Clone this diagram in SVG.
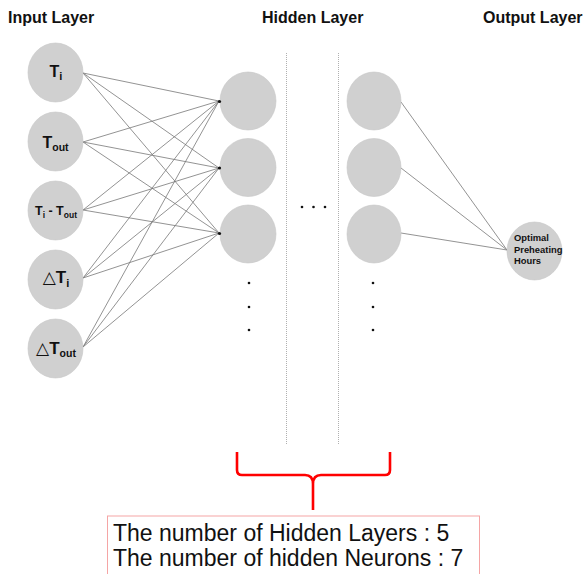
<svg xmlns="http://www.w3.org/2000/svg" width="585" height="574" viewBox="0 0 585 574">
<style>
.node{fill:#d0d0d0;stroke:#c6c6c6;stroke-width:0.6}
.title{font-family:"Liberation Sans",Arial,sans-serif;font-weight:bold;font-size:16px;fill:#111}
.lbl{font-family:"Liberation Sans","DejaVu Sans",Arial,sans-serif;font-weight:bold;fill:#111}
.tri{font-family:"DejaVu Sans",sans-serif;font-weight:normal}
.conn line{stroke:#777;stroke-width:0.8}
.dot{fill:#111}
.sep{stroke:#b0b0b0;stroke-width:1;stroke-dasharray:1 1}
.info{font-family:"Liberation Sans",Arial,sans-serif;font-size:23px;fill:#111}
</style>
<rect width="585" height="574" fill="#fff"/>

<text class="title" x="8" y="23">Input Layer</text>
<text class="title" x="262" y="23">Hidden Layer</text>
<text class="title" x="483" y="23">Output Layer</text>

<line class="sep" x1="286.5" y1="53" x2="286.5" y2="445"/>
<line class="sep" x1="338.5" y1="53" x2="338.5" y2="445"/>

<g id="connectors" class="conn">
<line x1="83" y1="73" x2="219" y2="101"/><line x1="83" y1="73" x2="219" y2="168"/><line x1="83" y1="73" x2="219" y2="233"/>
<line x1="83" y1="142" x2="219" y2="101"/><line x1="83" y1="142" x2="219" y2="168"/><line x1="83" y1="142" x2="219" y2="233"/>
<line x1="83" y1="210" x2="219" y2="101"/><line x1="83" y1="210" x2="219" y2="168"/><line x1="83" y1="210" x2="219" y2="233"/>
<line x1="83" y1="278" x2="219" y2="101"/><line x1="83" y1="278" x2="219" y2="168"/><line x1="83" y1="278" x2="219" y2="233"/>
<line x1="83" y1="347" x2="219" y2="101"/><line x1="83" y1="347" x2="219" y2="168"/><line x1="83" y1="347" x2="219" y2="233"/>
<line x1="401" y1="102" x2="507" y2="250"/><line x1="401" y1="168" x2="507" y2="250"/><line x1="401" y1="233" x2="507" y2="250"/>
</g>

<g id="in-ti"><ellipse class="node" cx="55.5" cy="72.5" rx="27.5" ry="29.5"/>
<text class="lbl" x="56" y="76.5" text-anchor="middle"><tspan font-size="16">T</tspan><tspan font-size="11" dy="3">i</tspan></text></g>
<g id="in-tout"><ellipse class="node" cx="55.5" cy="141.5" rx="27.5" ry="29.5"/>
<text class="lbl" x="55.5" y="148" text-anchor="middle"><tspan font-size="16">T</tspan><tspan font-size="10.5" dy="3">out</tspan></text></g>
<g id="in-diff"><ellipse class="node" cx="55.5" cy="210.5" rx="27.5" ry="29.5"/>
<text class="lbl" x="56" y="215" text-anchor="middle"><tspan font-size="12.5">T</tspan><tspan font-size="8.5" dy="2.5">i</tspan><tspan font-size="12.5" dy="-2.5"> - T</tspan><tspan font-size="8.5" dy="2.5">out</tspan></text></g>
<g id="in-dti"><ellipse class="node" cx="55.5" cy="279.5" rx="27.5" ry="29.5"/>
<text class="lbl" x="56" y="283" text-anchor="middle"><tspan class="tri" font-size="17">△</tspan><tspan font-size="17">T</tspan><tspan font-size="11" dy="3.5">i</tspan></text></g>
<g id="in-dtout"><ellipse class="node" cx="55.5" cy="348.5" rx="27.5" ry="29.5"/>
<text class="lbl" x="56" y="354" text-anchor="middle"><tspan class="tri" font-size="17">△</tspan><tspan font-size="17">T</tspan><tspan font-size="10.5" dy="3">out</tspan></text></g>

<g id="h1-1"><ellipse class="node" cx="248" cy="101" rx="28" ry="29"/><circle class="dot" cx="219.5" cy="101.5" r="1.6"/></g>
<g id="h1-2"><ellipse class="node" cx="248" cy="167.5" rx="28" ry="29"/><circle class="dot" cx="219.5" cy="168" r="1.6"/></g>
<g id="h1-3"><ellipse class="node" cx="248" cy="234" rx="28" ry="29"/><circle class="dot" cx="219.5" cy="233.5" r="1.6"/></g>
<g id="h1-more"><circle class="dot" cx="249" cy="283" r="1.3"/><circle class="dot" cx="249" cy="307" r="1.3"/><circle class="dot" cx="249" cy="330" r="1.3"/></g>

<g id="h-mid"><circle class="dot" cx="302" cy="207" r="1.3"/><circle class="dot" cx="313.5" cy="207" r="1.3"/><circle class="dot" cx="325" cy="207" r="1.3"/></g>

<g id="h5-1"><ellipse class="node" cx="374" cy="101" rx="27" ry="29"/></g>
<g id="h5-2"><ellipse class="node" cx="374" cy="167.5" rx="27" ry="29"/></g>
<g id="h5-3"><ellipse class="node" cx="374" cy="234" rx="27" ry="29"/></g>
<g id="h5-more"><circle class="dot" cx="373" cy="283" r="1.3"/><circle class="dot" cx="373" cy="307" r="1.3"/><circle class="dot" cx="373" cy="330" r="1.3"/></g>

<g id="out"><ellipse class="node" cx="534.5" cy="251" rx="27.5" ry="29"/>
<text class="lbl" font-size="9.4" x="514"><tspan x="514" y="241">Optimal</tspan><tspan x="514" y="252.5">Preheating</tspan><tspan x="514" y="264">Hours</tspan></text></g>

<g id="brace"><path d="M237,452 V470 Q237,475 242,475 H305 Q313,475 313,484 V510 M313,484 Q313,475 321,475 H385 Q390,475 390,470 V452" fill="none" stroke="#ff0000" stroke-width="2.6" stroke-linejoin="round"/></g>

<g id="info"><rect x="107.5" y="516" width="372" height="62" fill="#fff" stroke="#f5a5a5" stroke-width="1"/>
<text class="info" x="113" y="541">The number of Hidden Layers : 5</text>
<text class="info" x="113" y="566">The number of hidden Neurons : 7</text></g>
</svg>
